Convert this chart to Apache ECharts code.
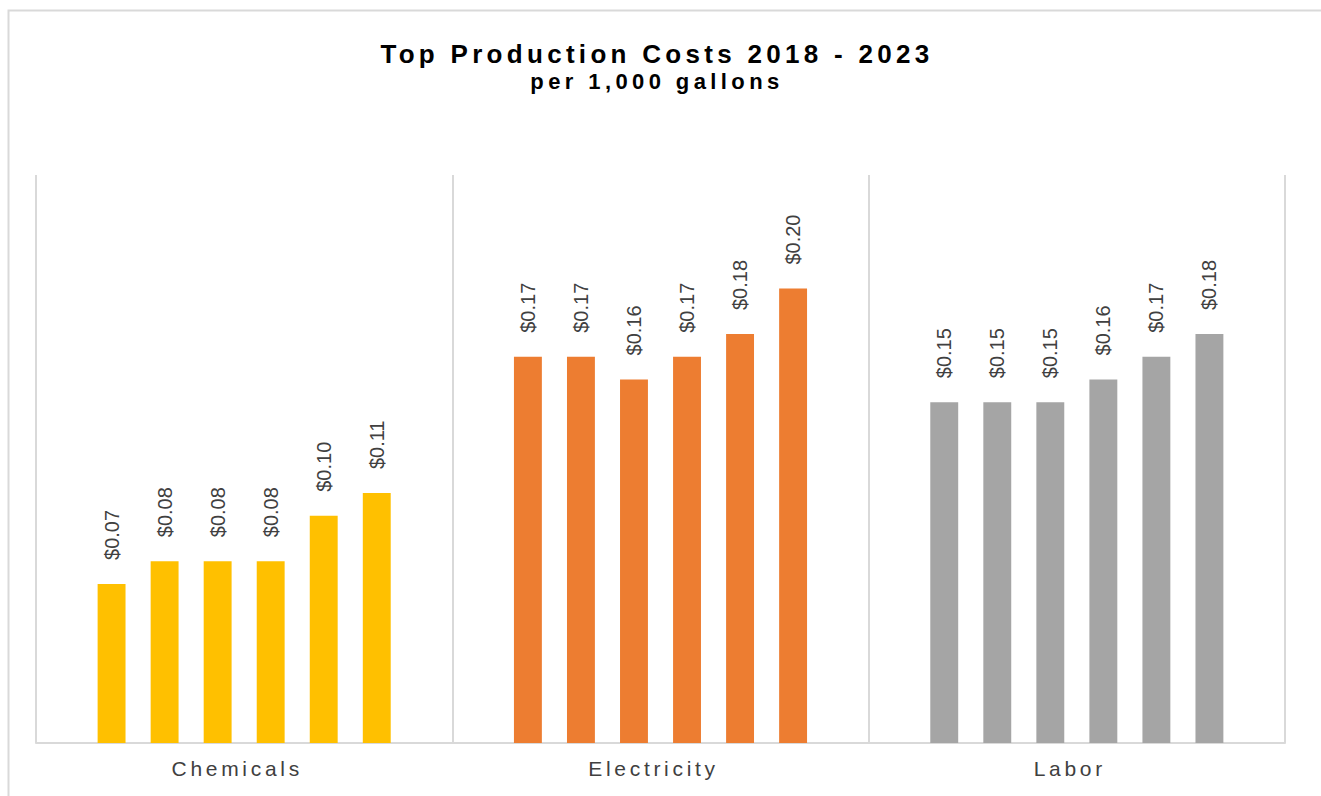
<!DOCTYPE html>
<html>
<head>
<meta charset="utf-8">
<title>Top Production Costs 2018 - 2023</title>
<script src="https://cdn.jsdelivr.net/npm/echarts@6/dist/echarts.min.js"></script>
<style>
  html, body { margin: 0; padding: 0; background: #ffffff; }
  #chart { width: 1321px; height: 796px; }
</style>
</head>
<body>
<div id="chart"></div>
<script>
// Cost categories and the years shown inside each group
const categories = ['Chemicals', 'Electricity', 'Labor'];
const years = ['2018', '2019', '2020', '2021', '2022', '2023'];

// Cost per 1,000 gallons, one value per year
const chemicals   = [0.07, 0.08, 0.08, 0.08, 0.10, 0.11];
const electricity = [0.17, 0.17, 0.16, 0.17, 0.18, 0.20];
const labor       = [0.15, 0.15, 0.15, 0.16, 0.17, 0.18];

const categoryColors = ['#FFC000', '#ED7D31', '#A5A5A5'];
const FONT = '"Liberation Sans", Arial, Helvetica, sans-serif';

const chart = echarts.init(document.getElementById('chart'), null, { renderer: 'svg' });

const series = years.map((year, i) => ({
  name: year,
  type: 'bar',
  data: [chemicals[i], electricity[i], labor[i]],
  barGap: '90%',
  barCategoryGap: '29.6%',
  itemStyle: {
    color: (p) => categoryColors[p.dataIndex]
  },
  label: {
    show: true,
    position: 'top',
    rotate: 90,
    align: 'left',
    verticalAlign: 'middle',
    distance: 24,
    formatter: (p) => '$' + p.value.toFixed(2),
    fontFamily: FONT,
    fontSize: 20,
    color: '#404040'
  }
}));

chart.setOption({
  animation: false,
  backgroundColor: '#ffffff',
  title: [
    {
      text: 'Top Production Costs 2018 - 2023',
      left: 652,
      top: 36,
      textAlign: 'center',
      textStyle: { fontFamily: FONT, fontSize: 26, fontWeight: 'bold', color: '#000000' }
    },
    {
      text: 'per 1,000 gallons',
      left: 652,
      top: 65,
      textAlign: 'center',
      textStyle: { fontFamily: FONT, fontSize: 22, fontWeight: 'bold', color: '#000000' }
    }
  ],
  graphic: [
    {
      type: 'rect',
      left: 6,
      top: 8,
      silent: true,
      shape: { width: 1330, height: 800 },
      style: { fill: 'none', stroke: '#d9d9d9', lineWidth: 2 }
    }
  ],
  grid: { left: 36, right: 36, top: 175, bottom: 53 },
  xAxis: {
    type: 'category',
    data: categories,
    axisTick: { show: false },
    axisLine: { show: true, lineStyle: { color: '#d9d9d9', width: 2 } },
    splitLine: { show: true, lineStyle: { color: '#d9d9d9', width: 2 } },
    axisLabel: {
      margin: 15,
      padding: [0, 14, 0, 0],
      fontFamily: FONT,
      fontSize: 21,
      color: '#404040'
    }
  },
  yAxis: {
    type: 'value',
    min: 0,
    max: 0.25,
    show: false,
    splitLine: { show: false }
  },
  series: series
});

// Widen the tracking of the heading and the category names
const spacing = {
  'Top Production Costs 2018 - 2023': 4.3,
  'per 1,000 gallons': 4.4,
  'Chemicals': 3.7,
  'Electricity': 3.7,
  'Labor': 3.7
};
function applySpacing() {
  document.querySelectorAll('#chart svg text').forEach((t) => {
    const s = spacing[t.textContent.trim()];
    if (s !== undefined) {
      t.setAttribute('letter-spacing', s + 'px');
      t.style.letterSpacing = s + 'px';
    }
  });
}
chart.on('finished', applySpacing);
applySpacing();
setTimeout(applySpacing, 50);
</script>
</body>
</html>
